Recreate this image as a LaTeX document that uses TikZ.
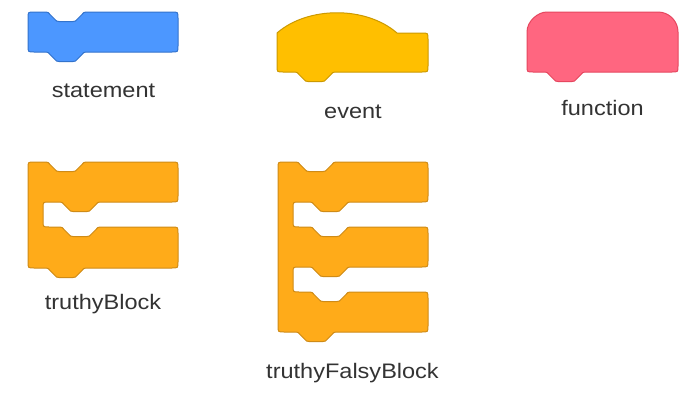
\documentclass[tikz,border=0pt]{standalone}
\usepackage{fontspec}
\setmainfont{Liberation Sans}
\definecolor{bluefill}{HTML}{4C97FF}
\definecolor{bluedraw}{HTML}{3373CC}
\definecolor{evfill}{HTML}{FFBF00}
\definecolor{evdraw}{HTML}{CC9900}
\definecolor{fnfill}{HTML}{FF6680}
\definecolor{fndraw}{HTML}{E6475F}
\definecolor{orfill}{HTML}{FFAB19}
\definecolor{ordraw}{HTML}{CF8B17}
\definecolor{labelgray}{HTML}{333333}
\tikzset{
  notchR/.style={insert path={.. controls +(2.5,0) and +(-1.5,-1.5) .. ++(4,2.5) -- ++(5,5) .. controls +(1.5,1.5) and +(-2.5,0) .. ++(4,2) -- ++(14,0) .. controls +(2.5,0) and +(-1.5,1.5) .. ++(4,-2) -- ++(5,-5) .. controls +(1.5,-1.5) and +(-2.5,0) .. ++(4,-2.5)}},
  notchL/.style={insert path={.. controls +(-2.5,0) and +(1.5,-1.5) .. ++(-4,2.5) -- ++(-5,5) .. controls +(-1.5,1.5) and +(2.5,0) .. ++(-4,2) -- ++(-14,0) .. controls +(-2.5,0) and +(1.5,1.5) .. ++(-4,-2) -- ++(-5,-5) .. controls +(-1.5,-1.5) and +(2.5,0) .. ++(-4,-2.5)}},
  blk/.style={line width=0.75pt, line join=round},
  statementblk/.style={blk, fill=bluefill, draw=bluedraw},
  eventblk/.style={blk, fill=evfill, draw=evdraw},
  functionblk/.style={blk, fill=fnfill, draw=fndraw},
  controlblk/.style={blk, fill=orfill, draw=ordraw},
  lbl/.style={anchor=base, inner sep=0pt, text=labelgray, font=\fontsize{15.75pt}{18pt}\selectfont}
}
\newcommand{\lbltext}[1]{\scalebox{1.12}[1]{#1}}
\begin{document}
\begin{tikzpicture}[x=0.75pt, y=-0.75pt]
\useasboundingbox (0,0) rectangle (700,400);
\fill[white] (0,0) rectangle (700,400);

% statement
\draw[statementblk] (28,18) .. controls (28,12) .. (34,12) -- (46,12) [notchR]
  -- (172,12) .. controls (178,12) .. (178,18) -- (178,46) .. controls (178,52) .. (172,52)
  -- (86,52) [notchL] -- (34,52) .. controls (28,52) .. (28,46) -- cycle;
\node[lbl] (statement) at (103.5,97) {\lbltext{statement}};

% event
\draw[eventblk] (277,33) .. controls (308,6) and (366,6) .. (397,33)
  -- (422,33) .. controls (428,33) .. (428,39) -- (428,66) .. controls (428,72) .. (422,72)
  -- (335,72) [notchL] -- (283,72) .. controls (277,72) .. (277,66) -- cycle;
\node[lbl] (event) at (353,118) {\lbltext{event}};

% function
\draw[functionblk] (527,32) .. controls (527,21) and (538,12) .. (547,12)
  -- (658,12) .. controls (669,12) and (678,21) .. (678,32) -- (678,66) .. controls (678,72) .. (672,72)
  -- (585,72) [notchL] -- (533,72) .. controls (527,72) .. (527,66) -- cycle;
\node[lbl] (function) at (602.5,115) {\lbltext{function}};

% truthyBlock
\draw[controlblk] (28,168) .. controls (28,162) .. (34,162) -- (46,162) [notchR]
  -- (172,162) .. controls (178,162) .. (178,168) -- (178,196) .. controls (178,202) .. (172,202)
  -- (100,202) [notchL] -- (49,202) .. controls (43,202) .. (43,208)
  -- (43,221) .. controls (43,227) .. (49,227) -- (60,227) [notchR]
  -- (172,227) .. controls (178,227) .. (178,233) -- (178,262) .. controls (178,268) .. (172,268)
  -- (86,268) [notchL] -- (34,268) .. controls (28,268) .. (28,262) -- cycle;
\node[lbl] (truthy) at (103,309) {\lbltext{truthyBlock}};

% truthyFalsyBlock
\draw[controlblk] (278,168) .. controls (278,162) .. (284,162) -- (296,162) [notchR]
  -- (422,162) .. controls (428,162) .. (428,168) -- (428,196) .. controls (428,202) .. (422,202)
  -- (350,202) [notchL] -- (299,202) .. controls (293,202) .. (293,208)
  -- (293,221) .. controls (293,227) .. (299,227) -- (310,227) [notchR]
  -- (422,227) .. controls (428,227) .. (428,233) -- (428,261) .. controls (428,267) .. (422,267)
  -- (350,267) [notchL] -- (299,267) .. controls (293,267) .. (293,273)
  -- (293,286) .. controls (293,292) .. (299,292) -- (310,292) [notchR]
  -- (422,292) .. controls (428,292) .. (428,298) -- (428,326) .. controls (428,332) .. (422,332)
  -- (336,332) [notchL] -- (284,332) .. controls (278,332) .. (278,326) -- cycle;
\node[lbl] (truthyfalsy) at (352.5,378) {\lbltext{truthyFalsyBlock}};
\end{tikzpicture}
\end{document}
